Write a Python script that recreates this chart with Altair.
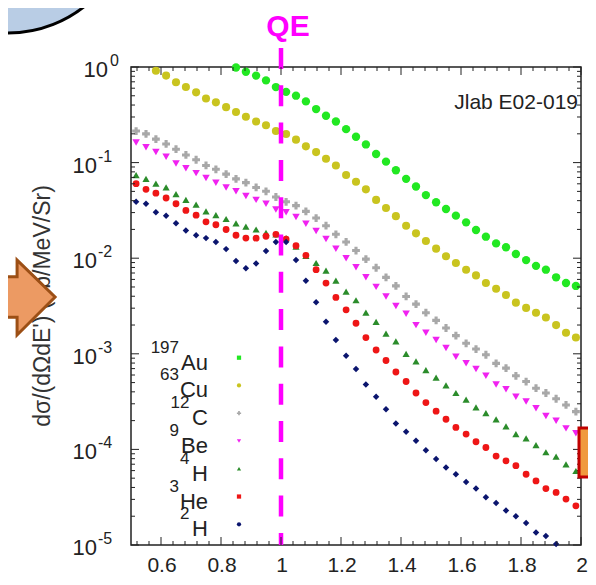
import altair as alt
import pandas as pd

FONT = "Liberation Sans"

# ---------------- data ----------------
x_grid = [0.517, 0.550, 0.583, 0.617, 0.650, 0.683, 0.717, 0.750, 0.783, 0.817,
          0.850, 0.883, 0.917, 0.950, 0.983, 1.017, 1.050, 1.083, 1.117, 1.150,
          1.183, 1.217, 1.250, 1.283, 1.317, 1.350, 1.383, 1.417, 1.450, 1.483,
          1.517, 1.550, 1.583, 1.617, 1.650, 1.683, 1.717, 1.750, 1.783, 1.817,
          1.850, 1.883, 1.917, 1.950, 1.983]

series_names = ["197Au", "63Cu", "12C", "9Be", "4H", "3He", "2H"]
mass_numbers = ["197", "63", "12", "9", "4", "3", "2"]
element_labels = ["Au", "Cu", "C", "Be", "H", "He", "H"]

# log10 of dσ/(dΩdE'), read point by point
au_log10 = [-0.005, -0.05, -0.09, -0.14, -0.21, -0.26, -0.30, -0.36, -0.44, -0.51,
            -0.57, -0.65, -0.73, -0.81, -0.91, -0.99, -1.08, -1.17, -1.25, -1.34,
            -1.415, -1.485, -1.555, -1.625, -1.705, -1.775, -1.845, -1.886, -1.956, -2.02,
            -2.08, -2.12, -2.20, -2.26, -2.29]
au_start = 10

cu_log10 = [-0.04, -0.09, -0.16, -0.21, -0.265, -0.33, -0.37, -0.42, -0.47, -0.52,
            -0.57, -0.61, -0.67, -0.70, -0.76, -0.83, -0.89, -0.96, -1.03, -1.13,
            -1.20, -1.28, -1.39, -1.475, -1.56, -1.66, -1.74, -1.82, -1.90, -1.98,
            -2.05, -2.12, -2.18, -2.26, -2.32, -2.385, -2.465, -2.52, -2.57, -2.62,
            -2.70, -2.78, -2.83]
cu_start = 2

c_log10 = [-0.67, -0.70, -0.755, -0.805, -0.86, -0.92, -0.97, -1.03, -1.07, -1.12,
           -1.17, -1.21, -1.26, -1.30, -1.36, -1.41, -1.45, -1.51, -1.58, -1.66,
           -1.75, -1.83, -1.92, -2.01, -2.10, -2.20, -2.29, -2.40, -2.48, -2.57,
           -2.65, -2.73, -2.81, -2.89, -2.95, -3.01, -3.10, -3.15, -3.23, -3.29,
           -3.36, -3.41, -3.47, -3.535, -3.605]
c_start = 0

be_log10 = [-0.79, -0.84, -0.89, -0.94, -1.01, -1.06, -1.11, -1.16, -1.21, -1.26,
            -1.30, -1.35, -1.39, -1.43, -1.49, -1.52, -1.57, -1.64, -1.715, -1.80,
            -1.90, -2.00, -2.095, -2.20, -2.30, -2.40, -2.50, -2.58, -2.70, -2.78,
            -2.855, -2.94, -3.03, -3.10, -3.16, -3.23, -3.32, -3.37, -3.45, -3.50,
            -3.57, -3.65, -3.70, -3.78, -3.83]
be_start = 0

h4_log10 = [-1.13, -1.17, -1.22, -1.26, -1.33, -1.39, -1.44, -1.51, -1.55, -1.59,
            -1.635, -1.67, -1.70, -1.735, -1.75, -1.79, -1.88, -1.975, -2.05, -2.13,
            -2.235, -2.35, -2.44, -2.57, -2.665, -2.79, -2.87, -3.00, -3.08, -3.17,
            -3.25, -3.33, -3.41, -3.48, -3.56, -3.62, -3.685, -3.76, -3.84, -3.885,
            -3.955, -4.03, -4.076, -4.156, -4.226]
h4_start = 0

he3_log10 = [-1.22, -1.28, -1.32, -1.37, -1.43, -1.50, -1.55, -1.62, -1.65, -1.70,
             -1.76, -1.79, -1.79, -1.77, -1.75, -1.80, -1.87, -1.97, -2.12, -2.26,
             -2.41, -2.54, -2.68, -2.83, -2.96, -3.07, -3.19, -3.29, -3.41, -3.51,
             -3.60, -3.685, -3.77, -3.84, -3.92, -3.98, -4.07, -4.12, -4.17, -4.26,
             -4.33, -4.41, -4.45, -4.52, -4.59]
he3_start = 0

h2_log10 = [-1.41, -1.43, -1.52, -1.555, -1.635, -1.71, -1.76, -1.79, -1.83, -1.905,
            -2.03, -2.105, -2.055, -1.925, -1.83, -1.83, -2.02, -2.235, -2.46, -2.665,
            -2.855, -3.02, -3.16, -3.32, -3.45, -3.58, -3.73, -3.815, -3.91, -4.01,
            -4.10, -4.19, -4.26, -4.34, -4.41, -4.50, -4.56, -4.64, -4.70, -4.77,
            -4.87, -4.905, -4.99]
h2_start = 0

x_tick_values = [0.6, 0.8, 1.0, 1.2, 1.4, 1.6, 1.8, 2.0]
x_tick_labels = ["0.6", "0.8", "1", "1.2", "1.4", "1.6", "1.8", "2"]
x_minor_values = [0.52, 0.56, 0.64, 0.68, 0.72, 0.76, 0.84, 0.88, 0.92, 0.96,
                  1.04, 1.08, 1.12, 1.16, 1.24, 1.28, 1.32, 1.36, 1.44, 1.48,
                  1.52, 1.56, 1.64, 1.68, 1.72, 1.76, 1.84, 1.88, 1.92, 1.96]
y_tick_values = [1e-5, 1e-4, 1e-3, 1e-2, 1e-1, 1.0]
y_exponents = ["-5", "-4", "-3", "-2", "-1", "0"]
y_minor_values = [m * 10.0 ** e for e in [-5, -4, -3, -2, -1] for m in range(2, 10)]

qe_x = [1.0]
y_title = "dσ/(dΩdE') (nb/MeV/Sr)"
experiment_label = "Jlab E02-019"

# ---------------- styles ----------------
colors = ["#22e822", "#c9c41f", "#a8a8a8", "#f022f0", "#2b8c2b", "#ee1616", "#0b156e"]
shapes = ["circle", "circle", "cross", "triangle-down", "triangle-up", "circle", "diamond"]
sizes = [70, 42, 50, 45, 45, 60, 42]
legend_shapes = ["square", "circle", "cross", "triangle-down", "triangle-up", "square", "circle"]

W, H = 450, 478
TXT = "#222"

rows = []
for name, start, vals in [
    ("197Au", au_start, au_log10), ("63Cu", cu_start, cu_log10), ("12C", c_start, c_log10),
    ("9Be", be_start, be_log10), ("4H", h4_start, h4_log10), ("3He", he3_start, he3_log10),
    ("2H", h2_start, h2_log10)]:
    for i, v in enumerate(vals):
        rows.append({"series": name, "x": x_grid[start + i], "y": 10.0 ** v})
df = pd.DataFrame(rows)

xs = alt.Scale(domain=[0.5, 2.0], nice=False, zero=False)
ys = alt.Scale(type="log", domain=[1e-5, 1.0], nice=False)
color_scale = alt.Scale(domain=series_names, range=colors)

points = alt.Chart(df).mark_point(filled=True, opacity=1).encode(
    x=alt.X("x:Q", scale=xs, axis=None),
    y=alt.Y("y:Q", scale=ys, axis=None),
    color=alt.Color("series:N", scale=color_scale, legend=None),
    shape=alt.Shape("series:N", scale=alt.Scale(domain=series_names, range=shapes), legend=None),
    size=alt.Size("series:N", scale=alt.Scale(domain=series_names, range=sizes), legend=None),
)

def yticks(values, x0, x1):
    return alt.Chart(pd.DataFrame({"v": values})).mark_rule(color=TXT, strokeWidth=1).encode(
        y=alt.Y("v:Q", scale=ys, axis=None), x=alt.value(x0), x2=alt.value(x1))

def xticks(values, y0, y1):
    return alt.Chart(pd.DataFrame({"v": values})).mark_rule(color=TXT, strokeWidth=1).encode(
        x=alt.X("v:Q", scale=xs, axis=None), y=alt.value(y0), y2=alt.value(y1))

tick_layers = [
    yticks(y_tick_values, 0, 8), yticks(y_tick_values, W, W - 8),
    yticks(y_minor_values, 0, 4), yticks(y_minor_values, W, W - 4),
    xticks(x_tick_values, H, H - 8), xticks(x_tick_values, 0, 8),
    xticks(x_minor_values, H, H - 4), xticks(x_minor_values, 0, 4),
]

# tick labels
xlab_df = pd.DataFrame({"v": x_tick_values, "t": x_tick_labels})
x_labels = alt.Chart(xlab_df).mark_text(
    align="center", baseline="alphabetic", fontSize=21, font=FONT, color=TXT, dx=1).encode(
    x=alt.X("v:Q", scale=xs, axis=None), y=alt.value(H + 27), text="t:N")

exp_df = pd.DataFrame({"v": y_tick_values, "e": y_exponents})
def ylab(filt, x10, xexp):
    base = alt.Chart(exp_df).transform_filter(filt)
    ten = base.transform_calculate(t="'10'").mark_text(
        align="right", baseline="middle", fontSize=22, font=FONT, color=TXT, dy=3).encode(
        y=alt.Y("v:Q", scale=ys, axis=None), x=alt.value(x10), text="t:N")
    ex = base.mark_text(
        align="left", baseline="middle", fontSize=16, font=FONT, color=TXT, dy=-6).encode(
        y=alt.Y("v:Q", scale=ys, axis=None), x=alt.value(xexp), text="e:N")
    return [ten, ex]

y_labels = ylab("datum.v >= 1", -23, -21) + ylab("datum.v < 1", -34, -33)

qe_rule = alt.Chart(pd.DataFrame({"x": qe_x})).mark_rule(
    color="#ff00ff", strokeWidth=4.5, strokeDash=[21, 16.3]).encode(
    x=alt.X("x:Q", scale=xs, axis=None), y=alt.value(-19), y2=alt.value(H))

one = pd.DataFrame({"t": [""]})
qe_text = alt.Chart(pd.DataFrame({"t": ["QE"]})).mark_text(
    fontSize=30, fontWeight="bold", font=FONT, color="#ff00ff", align="center", baseline="middle").encode(
    x=alt.value(157), y=alt.value(-40), text="t:N")
jlab_text = alt.Chart(pd.DataFrame({"t": [experiment_label]})).mark_text(
    fontSize=21, font=FONT, color=TXT, align="right", baseline="middle").encode(
    x=alt.value(447), y=alt.value(36), text="t:N")
title_text = alt.Chart(pd.DataFrame({"t": [y_title]})).mark_text(
    fontSize=23, font=FONT, color="#333", align="center", baseline="middle", angle=270).encode(
    x=alt.value(-88), y=alt.value(239), text="t:N")

arrow_path = "M-0.85,-0.53 L-0.34,-0.53 L-0.34,-0.97 L0.66,0 L-0.34,1 L-0.34,0.53 L-0.85,0.53 Z"
arrow = alt.Chart(one).mark_point(
    shape=arrow_path, size=5776, filled=True, fill="#ec9a63", stroke="#9c4f15",
    strokeWidth=3, opacity=1).encode(x=alt.value(-101), y=alt.value(230))
bubble = alt.Chart(one).mark_point(
    shape="circle", size=60516, filled=True, fill="#b9cde5", stroke="#000000",
    strokeWidth=3, opacity=1).encode(x=alt.value(-123), y=alt.value(-157))
box = alt.Chart(one).mark_rect(fill="#f09a3e", stroke="#c00000", strokeWidth=3).encode(
    x=alt.value(448), x2=alt.value(475), y=alt.value(361), y2=alt.value(410))

main = alt.layer(points, qe_rule, *tick_layers, x_labels, *y_labels, qe_text, jlab_text,
                 title_text, arrow, bubble, box)

legend_df = pd.DataFrame({"series": series_names, "el": element_labels,
                          "mass": mass_numbers, "lshape": legend_shapes})
row_scale = alt.Scale(type="point", domain=series_names, range=[290.7, 457.3], padding=0)
legend_el = alt.Chart(legend_df).mark_text(
    align="right", baseline="alphabetic", fontSize=22, font=FONT, color=TXT, dy=12).encode(
    y=alt.Y("series:N", scale=row_scale, axis=None), x=alt.value(77), text="el:N")
legend_mass = alt.Chart(legend_df).transform_calculate(
    px="69 - 10.5 * length(datum.el)").mark_text(
    align="right", baseline="alphabetic", fontSize=17, font=FONT, color=TXT, dy=-5).encode(
    y=alt.Y("series:N", scale=row_scale, axis=None),
    x=alt.X("px:Q", scale=None, axis=None), text="mass:N")
legend_pts = alt.Chart(legend_df).mark_point(filled=True, opacity=1, size=18).encode(
    y=alt.Y("series:N", scale=row_scale, axis=None), x=alt.value(108),
    color=alt.Color("series:N", scale=color_scale, legend=None),
    shape=alt.Shape("lshape:N", scale=None, legend=None))
legend = alt.layer(legend_el, legend_mass, legend_pts)

chart = alt.layer(main, legend).resolve_scale(
    x="independent", y="independent", shape="independent").properties(
    width=W, height=H,
    autosize=alt.AutoSizeParams(type="none"),
    padding={"left": 123, "top": 59, "right": 7, "bottom": 32},
).configure_view(stroke=TXT, strokeWidth=1.5)

chart.save("out.html", embed_options={"renderer": "svg", "actions": False})
